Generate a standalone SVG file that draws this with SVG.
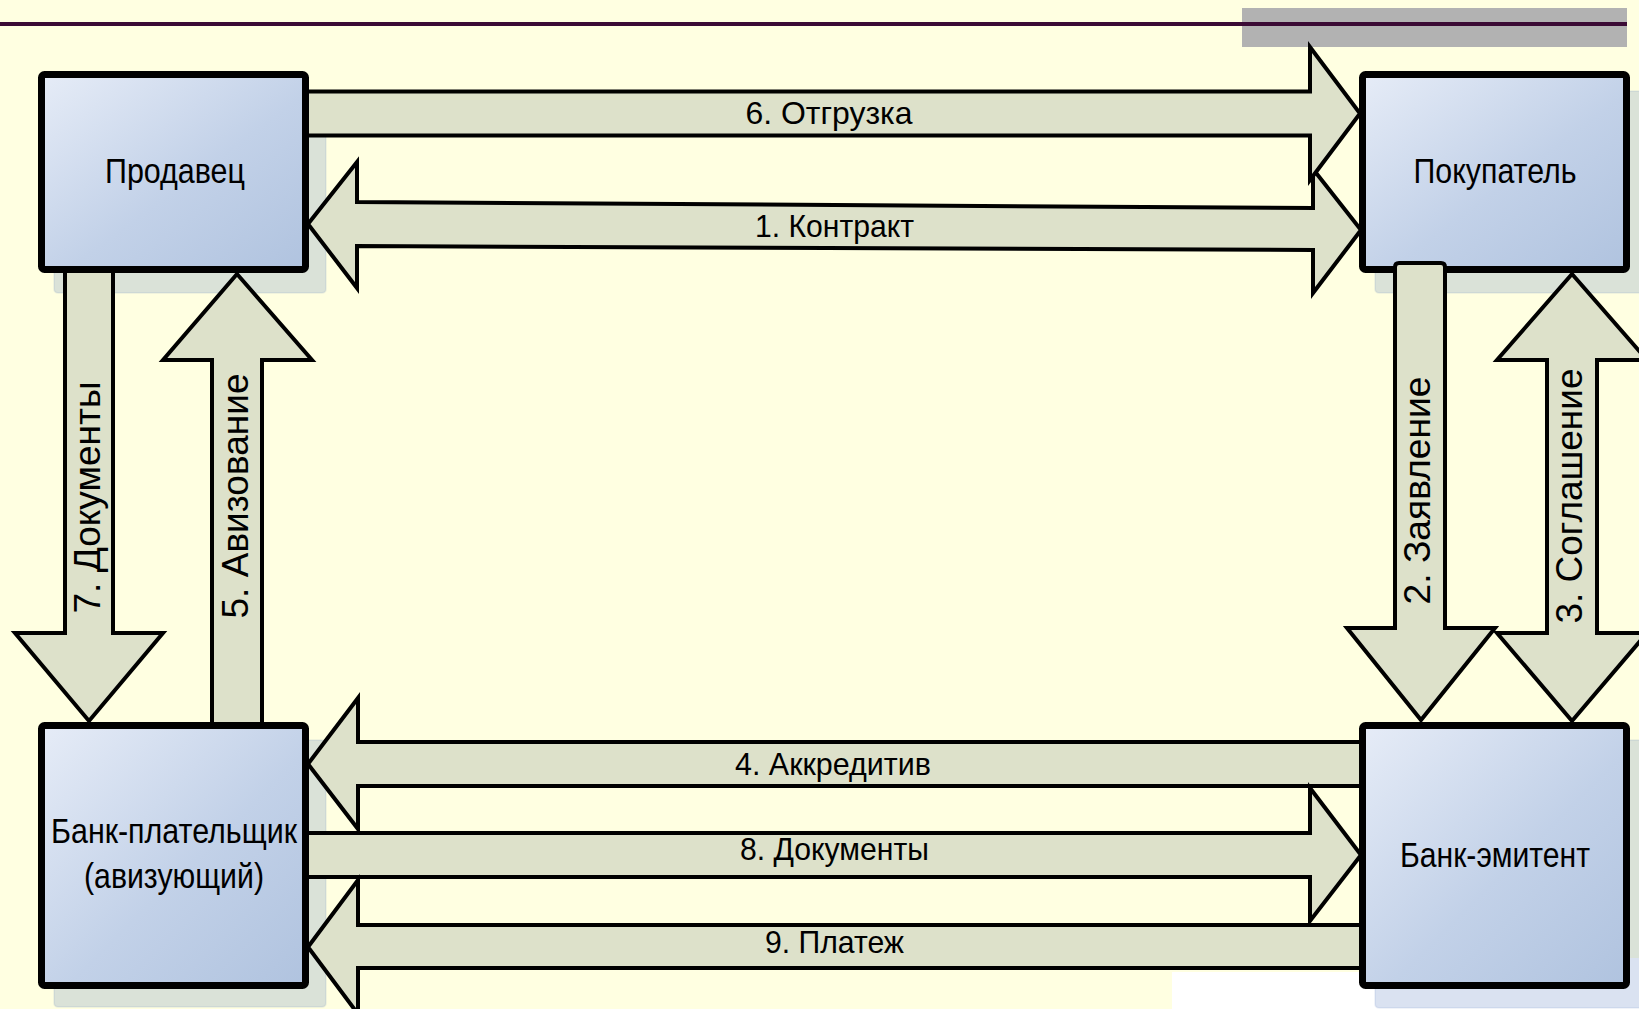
<svg xmlns="http://www.w3.org/2000/svg" width="1639" height="1009" viewBox="0 0 1639 1009">
  <defs>
    <linearGradient id="boxGrad" x1="0" y1="0" x2="1" y2="1">
      <stop offset="0" stop-color="#e6ecf7"/>
      <stop offset="0.55" stop-color="#c2d1e8"/>
      <stop offset="1" stop-color="#b0c3df"/>
    </linearGradient>
    <style>
      .shadow { fill: rgba(60,102,182,0.19); stroke: rgba(60,102,182,0.08); stroke-width: 2; }
      .box { fill: url(#boxGrad); stroke: #000; stroke-width: 7; }
      .boxtxt { font-family: "Liberation Sans", Arial, sans-serif; font-size: 35px; fill: #000; text-anchor: middle; }
      .arrow { fill: #dde1ca; stroke: #000; stroke-width: 4; stroke-linejoin: miter; }
      .lbl { font-family: "Liberation Sans", Arial, sans-serif; font-size: 31.5px; fill: #000; text-anchor: middle; }
      .vlbl { font-family: "Liberation Sans", Arial, sans-serif; font-size: 36px; fill: #000; text-anchor: middle; }
    </style>
  </defs>

  <!-- background -->
  <rect x="0" y="0" width="1639" height="1009" fill="#ffffe1"/>
  <rect x="1172" y="972" width="467" height="37" fill="#ffffff"/>
  <rect x="1630" y="958" width="9" height="14" fill="#ffffff"/>
  <rect x="1242" y="8" width="385" height="39" fill="#b2b2b2"/>
  <line x1="0" y1="24" x2="1627" y2="24" stroke="#3b0b35" stroke-width="4"/>

  <!-- nodes -->
  <g id="node-prodavets">
    <rect class="shadow" x="54" y="91" width="272" height="202" rx="4"/>
    <rect class="box" x="41.5" y="74.5" width="264" height="195" rx="3"/>
    <text class="boxtxt" x="175" y="183" textLength="140" lengthAdjust="spacingAndGlyphs">Продавец</text>
  </g>
  <g id="node-pokupatel">
    <rect class="shadow" x="1375" y="91" width="272" height="202" rx="4"/>
    <rect class="box" x="1362.5" y="74.5" width="264" height="195" rx="3"/>
    <text class="boxtxt" x="1495" y="183" textLength="163" lengthAdjust="spacingAndGlyphs">Покупатель</text>
  </g>
  <g id="node-bank-platelshchik">
    <rect class="shadow" x="54" y="740" width="272" height="267" rx="4"/>
    <rect class="box" x="41.5" y="725.5" width="264" height="260" rx="3"/>
    <text class="boxtxt" x="174" y="843" textLength="246" lengthAdjust="spacingAndGlyphs">Банк-плательщик</text>
    <text class="boxtxt" x="174" y="888" textLength="180" lengthAdjust="spacingAndGlyphs">(авизующий)</text>
  </g>
  <g id="node-bank-emitent">
    <rect class="shadow" x="1375" y="740" width="272" height="268" rx="4"/>
    <rect class="box" x="1362.5" y="725.5" width="264" height="260" rx="3"/>
    <text class="boxtxt" x="1495" y="867" textLength="190" lengthAdjust="spacingAndGlyphs">Банк-эмитент</text>
  </g>

  <!-- connectors -->
  <g id="connectors">
    <g id="arrow-1-kontrakt">
      <polygon class="arrow" points="308,224 357,162 357,202 1313,208 1313,169 1361,230 1313,293 1313,250 357,246 357,288"/>
      <text class="lbl" x="834.5" y="236.5" textLength="159" lengthAdjust="spacingAndGlyphs">1. Контракт</text>
    </g>
    <g id="arrow-6-otgruzka">
      <polygon class="arrow" points="307,91.5 1310,91.5 1310,47 1360,113.5 1310,180 1310,135.5 307,135.5"/>
      <text class="lbl" x="829" y="124" textLength="167" lengthAdjust="spacingAndGlyphs">6. Отгрузка</text>
    </g>
    <g id="arrow-7-dokumenty">
      <polygon class="arrow" points="65,271 113,271 113,633 163,633 89,721 15,633 65,633"/>
      <text class="vlbl" transform="translate(100,497.5) rotate(-90)" x="0" y="0" textLength="232" lengthAdjust="spacingAndGlyphs">7. Документы</text>
    </g>
    <g id="arrow-5-avizovanie">
      <polygon class="arrow" points="212,724 212,360 163,360 237,274 312,360 262,360 262,724"/>
      <text class="vlbl" transform="translate(248,496) rotate(-90)" x="0" y="0" textLength="245" lengthAdjust="spacingAndGlyphs">5. Авизование</text>
    </g>
    <g id="arrow-2-zayavlenie">
      <path class="arrow" d="M1395,628 L1395,267 Q1395,263 1399,263 L1441,263 Q1445,263 1445,267 L1445,628 L1495,628 L1421,720 L1347,628 Z"/>
      <text class="vlbl" transform="translate(1430,490.5) rotate(-90)" x="0" y="0" textLength="228" lengthAdjust="spacingAndGlyphs">2. Заявление</text>
    </g>
    <g id="arrow-3-soglashenie">
      <polygon class="arrow" points="1572,274 1647,360 1597,360 1597,633 1647,633 1572,721 1497,633 1547,633 1547,360 1497,360"/>
      <text class="vlbl" transform="translate(1582,496) rotate(-90)" x="0" y="0" textLength="255" lengthAdjust="spacingAndGlyphs">3. Соглашение</text>
    </g>
    <g id="arrow-4-akkreditiv">
      <polygon class="arrow" points="1361,742 358,742 358,698 308,764 358,829 358,786 1361,786"/>
      <text class="lbl" x="833" y="775" textLength="196" lengthAdjust="spacingAndGlyphs">4. Аккредитив</text>
    </g>
    <g id="arrow-8-dokumenty">
      <polygon class="arrow" points="307,833 1310,833 1310,788 1361,855 1310,921 1310,877 307,877"/>
      <text class="lbl" x="834.5" y="860" textLength="189" lengthAdjust="spacingAndGlyphs">8. Документы</text>
    </g>
    <g id="arrow-9-platezh">
      <polygon class="arrow" points="1361,925 358,925 358,880 308,947 358,1014 358,968 1361,968"/>
      <text class="lbl" x="834.5" y="953" textLength="139" lengthAdjust="spacingAndGlyphs">9. Платеж</text>
    </g>
  </g>
</svg>
